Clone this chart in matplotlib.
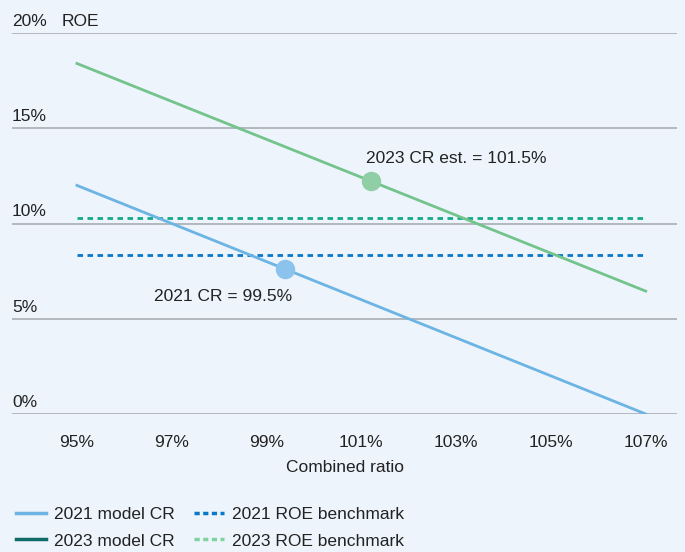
import numpy as np
import matplotlib.pyplot as plt
from matplotlib.lines import Line2D
from matplotlib.transforms import blended_transform_factory

plt.rcParams['font.family'] = ['Liberation Sans', 'DejaVu Sans']

# 数据
cr = [95, 107]
roe_2021 = [12.0, 0.0]
roe_2023 = [18.4, 6.45]
bench_2021 = 8.35
bench_2023 = 10.3
point_2021 = (99.4, 7.6)
point_2023 = (101.2, 12.25)
x_ticks = [95, 97, 99, 101, 103, 105, 107]
y_ticks = [0, 5, 10, 15, 20]

bg = '#EDF4FB'
c21 = '#6CB4E4'
c23 = '#72C48C'
c21_pt = '#8CC3EC'
c23_pt = '#90CFA6'
c21_b = '#0A77C8'
c23_b = '#15A98A'
fs = 12.5

fig = plt.figure(figsize=(6.85, 5.52), dpi=100, facecolor=bg)
ax = fig.add_axes([12 / 685, 1 - 414 / 552, 665 / 685, 381 / 552], facecolor=bg)

# 网格线
for y in y_ticks:
    ax.axhline(y, color='#A3A6AD', lw=1.1, zorder=1)

# 基准线
ax.plot(cr, [bench_2023] * 2, color=c23_b, lw=2, ls=(0, (2, 1.6)), zorder=2)
ax.plot(cr, [bench_2021] * 2, color=c21_b, lw=2, ls=(0, (2, 1.6)), zorder=2)

# 模型线
ax.plot(cr, roe_2021, color=c21, lw=2, zorder=3)
ax.plot(cr, roe_2023, color=c23, lw=2, zorder=3)

# 点
ax.plot(*point_2021, 'o', ms=13, color=c21_pt, zorder=4)
ax.plot(*point_2023, 'o', ms=13, color=c23_pt, zorder=4)

ax.text(99.55, 6.15, '2021 CR = 99.5%', fontsize=fs, color='#222222',
        ha='right', va='center')
ax.text(101.1, 13.4, '2023 CR est. = 101.5%', fontsize=fs, color='#222222',
        ha='left', va='center')

ax.set_xlim(93.63, 107.66)
ax.set_ylim(0, 20)
for s in ax.spines.values():
    s.set_visible(False)

ax.set_xticks(x_ticks)
ax.set_xticklabels([f'{v}%' for v in x_ticks], fontsize=fs, color='#222222')
ax.tick_params(axis='x', length=0, pad=15)
ax.set_yticks([])
ax.set_xlabel('Combined ratio', fontsize=fs, color='#222222', labelpad=7)

# y轴标签
trans = blended_transform_factory(ax.transAxes, ax.transData)
for y in y_ticks:
    ax.text(0, y + 0.22, f'{y}%', transform=trans, fontsize=fs,
            color='#222222', ha='left', va='bottom')
ax.text(50 / 665, 20.22, 'ROE', transform=trans, fontsize=fs,
        color='#222222', ha='left', va='bottom')

# 图例
handles = [
    Line2D([], [], color=c21, lw=2.5),
    Line2D([], [], color='#0E6B68', lw=2.5),
    Line2D([], [], color=c21_b, lw=2.5, ls=(0, (1.5, 1))),
    Line2D([], [], color='#7FD3A0', lw=2.5, ls=(0, (1.5, 1))),
]
labels = ['2021 model CR', '2023 model CR', '2021 ROE benchmark', '2023 ROE benchmark']
fig.legend(handles, labels, ncol=2, loc='lower left', bbox_to_anchor=(0.0, -0.022),
           frameon=False, fontsize=fs, handlelength=1.75, handletextpad=0.45,
           columnspacing=1.1, labelspacing=0.65, labelcolor='#222222')

fig.savefig('out.png', dpi=100, facecolor=bg)
